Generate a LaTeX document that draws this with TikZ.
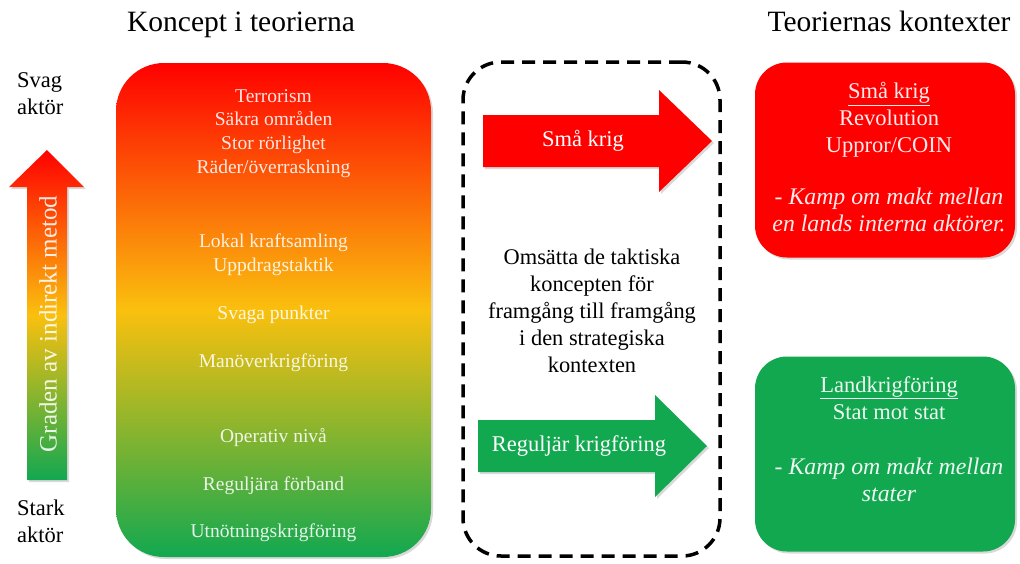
\documentclass[tikz,border=0pt]{standalone}
\usepackage{fontspec}
\setmainfont{Liberation Serif}
\usepackage{xcolor}
\definecolor{red}{RGB}{255,0,0}
\definecolor{gold}{RGB}{250,192,14}
\definecolor{green}{RGB}{18,168,80}
\usepackage{tikz}
\usetikzlibrary{
	calc,
	positioning,
	shadows
}
\newcommand\BlockArrow[5]{
	% #1: left x
	% #2: x where the head starts
	% #3: x of the tip
	% #4: middle y
	% #5: half the shaft width (head is 25 wider on each side)
	(#1,#4-#5) -- (#2,#4-#5) -- (#2,#4-#5-25) -- (#3,#4)
	-- (#2,#4+#5+25) -- (#2,#4+#5) -- (#1,#4+#5) -- cycle
}
\tikzstyle{every picture}+=[>=stealth]

\begin{document}
\begin{tikzpicture}[x=1pt, y=-1pt]

	\useasboundingbox (0,0) rectangle (1020,563);

	\begin{scope}[
			dropshade/.style={drop shadow={opacity=0.3, shadow xshift=2pt, shadow yshift=-2pt}},
			grad/.style={top color=red, bottom color=green, middle color=gold},
			title/.style={font=\fontsize{29.5}{34}\selectfont},
			side/.style={font=\fontsize{22.5}{27}\selectfont, align=left, anchor=west, inner sep=0},
			concept/.style={font=\fontsize{19.5}{24}\selectfont, text=white, text opacity=0.88, anchor=base},
			ctx/.style={font=\fontsize{22.5}{27}\selectfont, text=white, text opacity=0.92, align=center},
			kamp/.style={ctx, font=\fontsize{23.8}{27}\selectfont\itshape},
			arrlabel/.style={font=\fontsize{22.5}{27}\selectfont, text=white}
			]

		% headings
		\node[title, anchor=base] (konceptrubrik) at (241,31) {Koncept i teorierna};
		\node[title, anchor=base] (kontextrubrik) at (889,31) {Teoriernas kontexter};

		% left scale
		\node[side] (svag) at (17,94) {Svag\\aktör};
		\node[side] (stark) at (17,521) {Stark\\aktör};
		\path[grad, dropshade] (47,150) -- (84,187) -- (67,187) -- (67,480)
			-- (27,480) -- (27,187) -- (9,187) -- cycle;
		\node[rotate=90, font=\fontsize{25}{29}\selectfont, text=white, text opacity=0.88] (metod) at (48,324) {Graden av indirekt metod};

		% concepts
		\node[grad, dropshade, rounded corners=48, minimum width=315, minimum height=494] (koncept) at (273.5,310) {};
		\foreach \n/\ypos/\txt in {terror/96/Terrorism, sakra/119/Säkra områden, stor/143/Stor rörlighet,
				rader/167/{Räder/överraskning}, lokal/241/Lokal kraftsamling, uppdrag/265/Uppdragstaktik,
				svaga/313/Svaga punkter, manover/361/Manöverkrigföring, operativ/436/Operativ nivå,
				regforband/484/Reguljära förband, utnotning/531/Utnötningskrigföring} {
			\node[concept] (\n) at (273.5,\ypos+6) {\txt};
		}

		% translation
		\node[draw, dashed, line width=3.5, dash pattern=on 13 off 8, rounded corners=38,
			minimum width=257, minimum height=494] (omsatt) at (591.5,309) {};
		\fill[red, dropshade] \BlockArrow{483}{659}{712}{141}{26};
		\fill[green, dropshade] \BlockArrow{478}{655}{707}{446}{26};
		\node[arrlabel] (smapil) at (583,141) {Små krig};
		\node[arrlabel] (regpil) at (579,446) {Reguljär krigföring};
		\node[font=\fontsize{22.4}{27}\selectfont, align=center] (omsatttext) at (592,311)
			{Omsätta de taktiska\\koncepten för\\framgång till framgång\\i den strategiska\\kontexten};

		% contexts
		\node[fill=red, dropshade, rounded corners=32, minimum width=260, minimum height=195] (smakrig) at (885,160) {};
		\node[ctx] (smahuvud) at (889,120) {\underline{Små krig}\\Revolution\\Uppror/COIN};
		\node[kamp, below=23pt of smahuvud] (smakamp)
			{- Kamp om makt mellan\\en lands interna aktörer.};

		\node[fill=green, dropshade, rounded corners=32, minimum width=260, minimum height=195] (landkrig) at (885,454) {};
		\node[ctx] (landhuvud) at (889,398) {\underline{Landkrigföring}\\Stat mot stat};
		\node[kamp, below=31pt of landhuvud] (landkamp)
			{- Kamp om makt mellan\\stater};

	\end{scope}

\end{tikzpicture}
\end{document}
